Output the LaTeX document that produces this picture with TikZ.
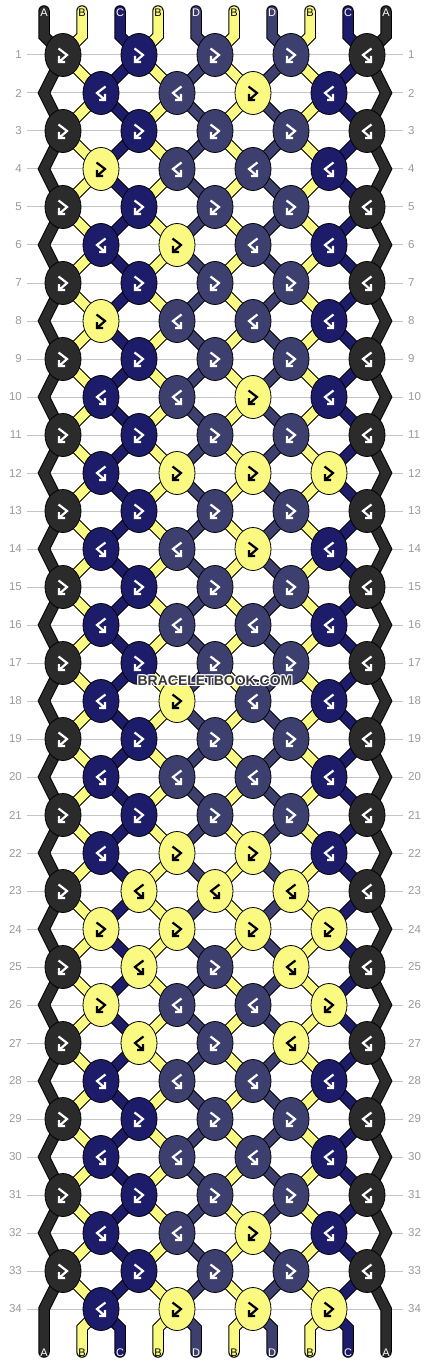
\documentclass[tikz,border=0pt]{standalone}
\usepackage{fontspec}
\setmainfont{Liberation Sans}
\usetikzlibrary{shapes.geometric}
\definecolor{col0}{HTML}{2B2B2B}
\definecolor{col1}{HTML}{FAFA82}
\definecolor{col2}{HTML}{1C1C6B}
\definecolor{col3}{HTML}{3D406F}
\definecolor{rowlinecol}{HTML}{C4C4C4}
\definecolor{rownumcol}{HTML}{9A9A9A}
\definecolor{wmcol}{HTML}{383838}
\newcommand\placeknot[4]{%
  \ifnum#3=1 \def\ac{black}\else\def\ac{white}\fi
  \node[knot, fill=col#3] (n-#1-#2) at (k-#1-#2) {};
  \if#4f%
    \draw[knotarrow, draw=\ac, shift={(n-#1-#2.center)}] (-4.5,-6.5) -- (4,0) -- (-4,7) (-4,1) -- (-4,7) -- (2,7);
  \else
    \draw[knotarrow, draw=\ac, shift={(n-#1-#2.center)}] (4.5,-6.5) -- (-4,0) -- (4,7) (4,1) -- (4,7) -- (-2,7);
  \fi}
\begin{document}
\begin{tikzpicture}[x=1pt,y=-1pt,
  thread/.style={draw=black, line width=1pt, double distance=9.5pt, line cap=round, line join=miter},
  knot/.style={ellipse, draw=black, line width=0.8pt, minimum width=36pt, minimum height=43pt, inner sep=0pt},
  knotarrow/.style={line width=2.2pt, line cap=butt, line join=miter},
  rowline/.style={draw=rowlinecol, line width=1pt},
  rownum/.style={text=rownumcol, font=\fontsize{11.5}{13}\selectfont, inner sep=0pt},
  strlabel/.style={font=\fontsize{11}{13}\selectfont, inner sep=0pt},
  wm/.style={font=\fontsize{14}{16}\selectfont\bfseries, inner sep=0pt}
]
\fill[white] (0,0) rectangle (430,1364);
\useasboundingbox (0,0) rectangle (430,1364);

% row lines and numbers
\foreach \rw in {1,...,34}{
  \pgfmathsetmacro\yy{55+38*(\rw-1)}
  \coordinate (rl-\rw) at (27,\yy);
  \coordinate (rr-\rw) at (403,\yy);
  \draw[rowline] (rl-\rw) -- (rr-\rw);
  \node[rownum, anchor=east] (nl-\rw) at (22,\yy) {\rw};
  \node[rownum, anchor=west] (nr-\rw) at (408,\yy) {\rw};
}

% knot / edge positions
\foreach \rw in {1,...,34}{
  \pgfmathsetmacro\yy{55+38*(\rw-1)}
  \foreach \kk in {-1,...,9}{
    \pgfmathsetmacro\xx{ifthenelse(\kk==-1,44,ifthenelse(\kk==9,386,63+38*\kk))}
    \coordinate (k-\rw-\kk) at (\xx,\yy);
  }
}

% string ends
\foreach \ii in {0,...,9}{
  \pgfmathsetmacro\xs{44+38*\ii}
  \coordinate (top-\ii) at (\xs,11);
  \coordinate (tb-\ii) at (\xs,36);
  \coordinate (bb-\ii) at (\xs,1328);
  \coordinate (bot-\ii) at (\xs,1352);
  \coordinate (lt-\ii) at (\xs,13);
  \coordinate (lb-\ii) at (\xs,1352.5);
}

% threads
\foreach \ii/\cl in {0/0,1/1,2/2,3/1,4/3,5/1,6/3,7/1,8/2,9/0}{
  \pgfmathtruncatemacro\mm{mod(\ii,2)}
  \draw[thread, double=col\cl] (top-\ii) -- (tb-\ii)
    \foreach \rw [evaluate=\rw as \kk using int(\ii+\mm-1+(\rw-2*floor(\rw/2))*(1-2*\mm))] in {1,...,34} { -- (k-\rw-\kk) }
    -- (bb-\ii) -- (bot-\ii);
}

% string labels
\foreach \ii/\cl/\lab in {0/0/A,1/1/B,2/2/C,3/1/B,4/3/D,5/1/B,6/3/D,7/1/B,8/2/C,9/0/A}{
  \ifnum\cl=1 \def\tc{black}\else\def\tc{white}\fi
  \node[strlabel, text=\tc] (lbt-\ii) at (lt-\ii) {\lab};
  \node[strlabel, text=\tc] (lbb-\ii) at (lb-\ii) {\lab};
}

% knots: odd rows
\foreach \rw in {1,3,...,21,29,31,33}{
  \foreach \kk/\cl/\ty in {0/0/f,2/2/f,4/3/f,6/3/f,8/0/b}{\placeknot{\rw}{\kk}{\cl}{\ty}}}
\foreach \kk/\cl/\ty in {0/0/f,2/1/b,4/1/b,6/1/b,8/0/b}{\placeknot{23}{\kk}{\cl}{\ty}}
\foreach \rw in {25,27}{
  \foreach \kk/\cl/\ty in {0/0/f,2/1/b,4/3/f,6/1/b,8/0/b}{\placeknot{\rw}{\kk}{\cl}{\ty}}}
% knots: even rows
\foreach \rw in {2,10,14,32}{
  \foreach \kk/\cl/\ty in {1/2/b,3/3/b,5/1/f,7/2/b}{\placeknot{\rw}{\kk}{\cl}{\ty}}}
\foreach \rw in {4,8}{
  \foreach \kk/\cl/\ty in {1/1/f,3/3/b,5/3/b,7/2/b}{\placeknot{\rw}{\kk}{\cl}{\ty}}}
\foreach \rw in {6,18}{
  \foreach \kk/\cl/\ty in {1/2/b,3/1/f,5/3/b,7/2/b}{\placeknot{\rw}{\kk}{\cl}{\ty}}}
\foreach \rw in {12,34}{
  \foreach \kk/\cl/\ty in {1/2/b,3/1/f,5/1/f,7/1/f}{\placeknot{\rw}{\kk}{\cl}{\ty}}}
\foreach \rw in {16,20,28,30}{
  \foreach \kk/\cl/\ty in {1/2/b,3/3/b,5/3/b,7/2/b}{\placeknot{\rw}{\kk}{\cl}{\ty}}}
\foreach \kk/\cl/\ty in {1/2/b,3/1/f,5/1/f,7/2/b}{\placeknot{22}{\kk}{\cl}{\ty}}
\foreach \kk/\cl/\ty in {1/1/f,3/1/f,5/1/f,7/1/f}{\placeknot{24}{\kk}{\cl}{\ty}}
\foreach \kk/\cl/\ty in {1/1/f,3/3/b,5/3/b,7/1/f}{\placeknot{26}{\kk}{\cl}{\ty}}

% watermark
\foreach \dx/\dy [count=\hh] in {-1/0,1/0,0/-1,0/1,-1/-1,1/1,-1/1,1/-1}{
  \node[wm, text=white] (wmh-\hh) at (215+\dx,681+\dy) {BRACELETBOOK.COM};
}
\node[wm, text=wmcol] (wm) at (215,681) {BRACELETBOOK.COM};
\end{tikzpicture}
\end{document}
